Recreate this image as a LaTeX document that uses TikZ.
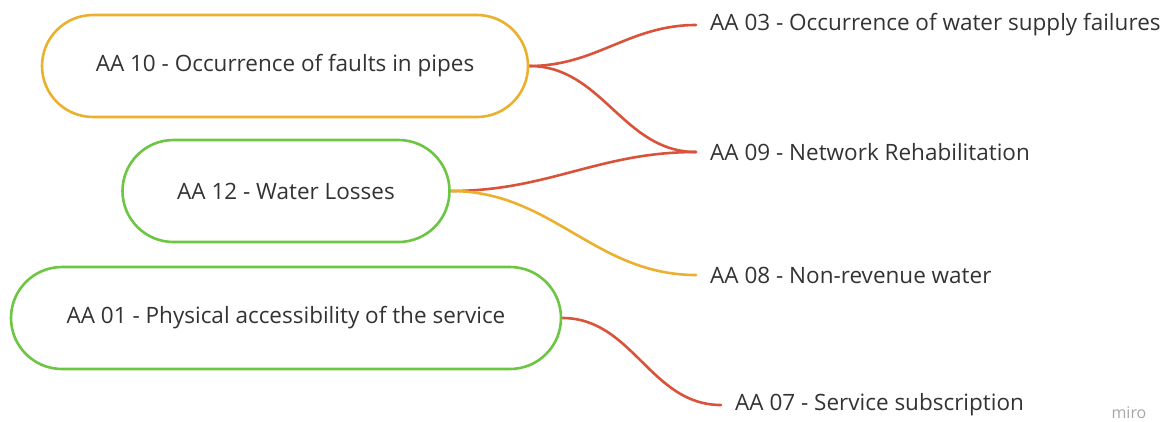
\documentclass[tikz,border=0pt]{standalone}
\usepackage{fontspec}
\setmainfont{Open Sans}
\usetikzlibrary{positioning,backgrounds}
\definecolor{mapyellow}{HTML}{EBB02E}
\definecolor{mapgreen}{HTML}{6CC644}
\definecolor{mapred}{HTML}{D9533A}
\definecolor{maptext}{HTML}{333333}
\def\figboxheight{102pt}
\def\figboxradius{51pt}
\def\figlinewidth{2.6pt}
\def\figlabelsep{14pt}

\begin{document}
\begin{tikzpicture}[
  x=1pt,y=-1pt,
  font=\fontsize{22.5}{27}\selectfont,
  box/.style={draw,line width=\figlinewidth,minimum height=\figboxheight,rounded corners=\figboxradius,text=maptext,fill=white},
  leaf/.style={text=maptext,inner xsep=\figlabelsep,anchor=west},
  link/.style={line width=\figlinewidth,line cap=round},
]
\useasboundingbox (0,0) rectangle (1168,421);

%%%%%%%%%%%%%%%
% Left Part
%%%%%%%%%%%%%%%
\node (a10) [box,draw=mapyellow,minimum width=486pt] at (285,66) {AA 10 - Occurrence of faults in pipes};
\node (a12) [box,draw=mapgreen,minimum width=327pt] at (286,191) {AA 12 - Water Losses};
\node (a01) [box,draw=mapgreen,minimum width=550pt] at (286,318) {AA 01 - Physical accessibility of the service};

%%%%%%%%%%%%%%%
% Right Part
%%%%%%%%%%%%%%%
\node (a03) [leaf] at (696,25) {AA 03 - Occurrence of water supply failures};
\node (a09) [leaf] at (696,152) {AA 09 - Network Rehabilitation};
\node (a08) [leaf] at (696,275) {AA 08 - Non-revenue water};
\node (a07) [leaf] at (721,405) {AA 07 - Service subscription};

\node (miro) [text=black!35,font=\fontsize{16}{19}\selectfont] at (1129,413) {miro};

%%%%%%%%%%%%%%%
% Connectors
\begin{scope}[on background layer]
\draw [link,mapred] (a10.east) to[out=0,in=180] (a03.west);
\draw [link,mapred] (a10.east) to[out=0,in=180] (a09.west);
\draw [link,mapred] (a12.east) to[out=0,in=180] (a09.west);
\draw [link,mapyellow] (a12.east) to[out=0,in=180] (a08.west);
\draw [link,mapred] (a01.east) to[out=0,in=180] (a07.west);
\end{scope}

\end{tikzpicture}
\end{document}
